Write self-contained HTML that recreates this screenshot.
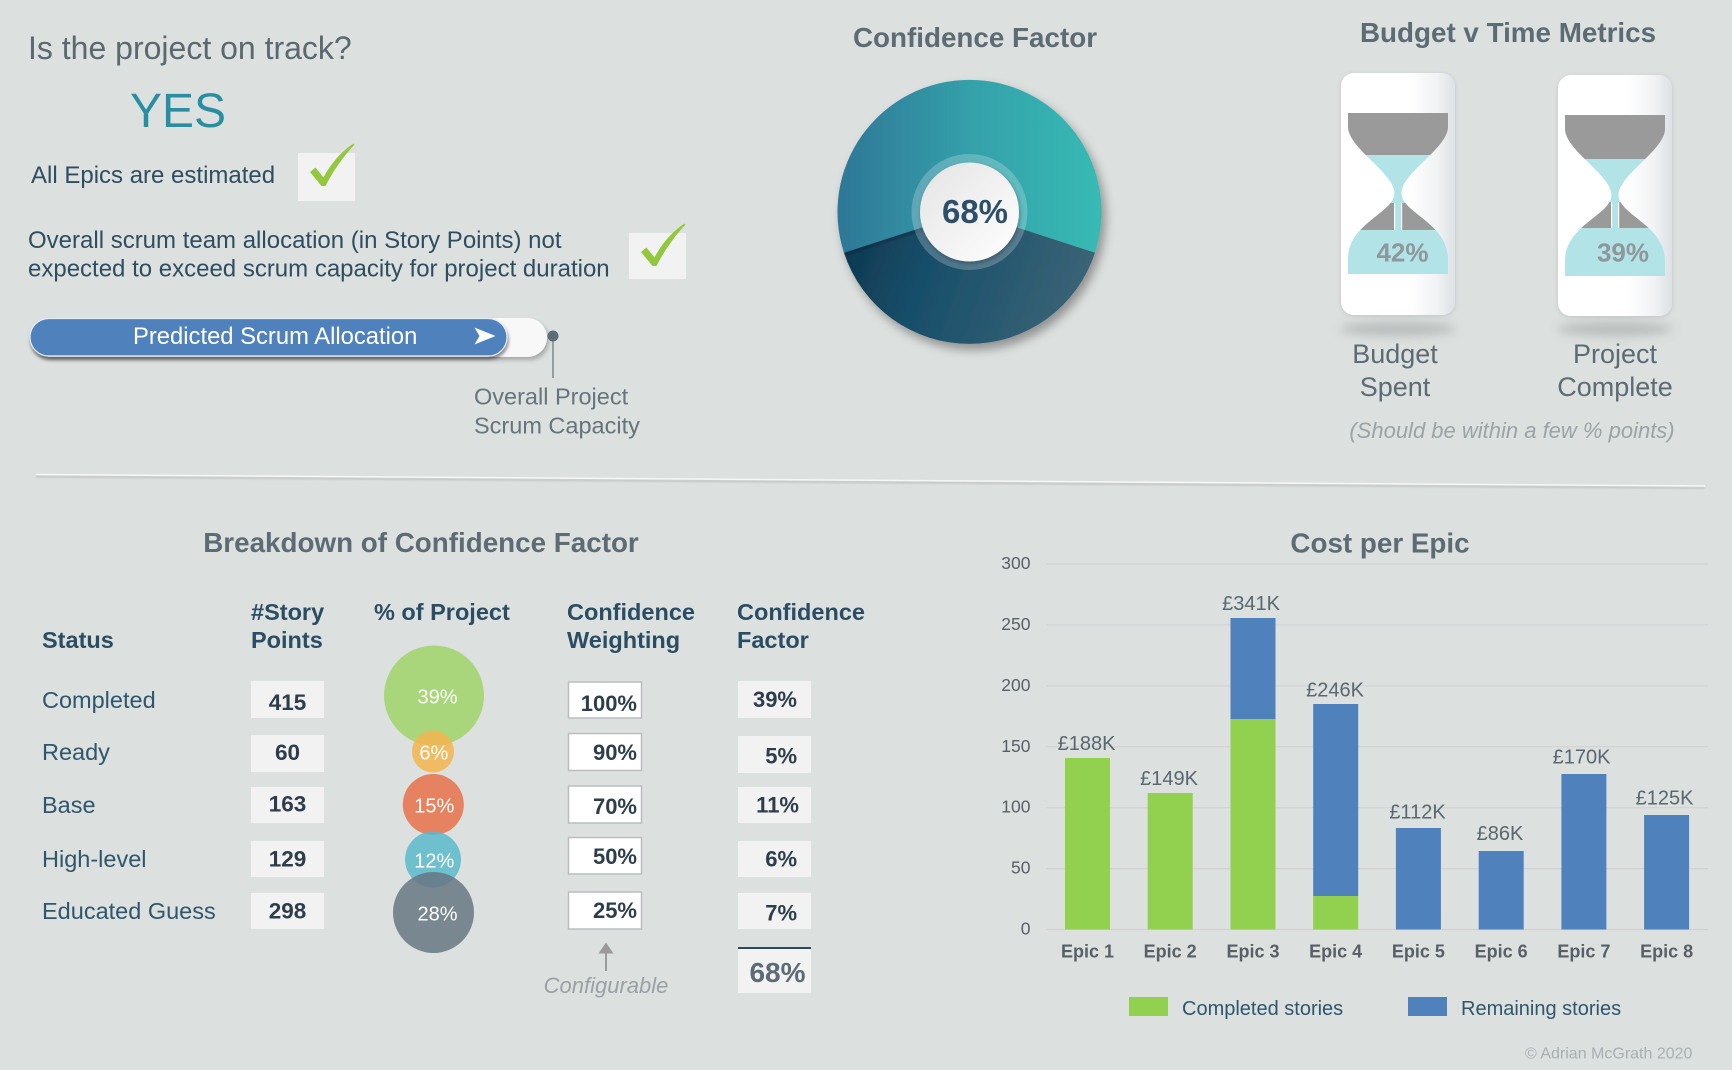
<!DOCTYPE html>
<html><head><meta charset="utf-8"><style>
html,body{margin:0;padding:0;background:#dce0de;width:1732px;height:1070px;overflow:hidden}
svg{display:block}
text{font-family:"Liberation Sans",Arial,sans-serif}
</style></head><body>
<svg width="1732" height="1070" viewBox="0 0 1732 1070" xmlns="http://www.w3.org/2000/svg">
<defs>
<filter id="pieSh" x="-20%" y="-20%" width="150%" height="150%"><feDropShadow dx="4" dy="6" stdDeviation="5" flood-color="#000" flood-opacity=".35"/></filter>
<filter id="pillSh" x="-5%" y="-40%" width="110%" height="200%"><feDropShadow dx="1" dy="3" stdDeviation="1.6" flood-color="#000" flood-opacity=".45"/></filter>
<filter id="pillSh2" x="-5%" y="-40%" width="110%" height="200%"><feDropShadow dx="2" dy="3" stdDeviation="2" flood-color="#000" flood-opacity=".25"/></filter>
<filter id="hgSh" x="-20%" y="-20%" width="140%" height="140%"><feDropShadow dx="0" dy="1" stdDeviation="2.5" flood-color="#000" flood-opacity=".12"/></filter>
<filter id="inSh" x="-30%" y="-30%" width="160%" height="160%"><feDropShadow dx="1" dy="2" stdDeviation="2" flood-color="#000" flood-opacity=".3"/></filter>
<filter id="bl3" x="-50%" y="-300%" width="200%" height="700%"><feGaussianBlur stdDeviation="5"/></filter>
<filter id="bl1"><feGaussianBlur stdDeviation="0.8"/></filter>
<linearGradient id="teal" x1="838" y1="0" x2="1102" y2="0" gradientUnits="userSpaceOnUse">
<stop offset="0" stop-color="#2e7797"/><stop offset=".5" stop-color="#34a0aa"/><stop offset="1" stop-color="#37bab4"/></linearGradient>
<linearGradient id="dark" x1="850" y1="250" x2="1090" y2="330" gradientUnits="userSpaceOnUse">
<stop offset="0" stop-color="#0f3a52"/><stop offset=".3" stop-color="#174e6a"/><stop offset="1" stop-color="#3f6677"/></linearGradient>
<linearGradient id="inner" x1="0" y1="0" x2="1" y2="1">
<stop offset="0" stop-color="#e4e4e4"/><stop offset="1" stop-color="#ffffff"/></linearGradient>
<linearGradient id="frame" x1="0" y1="0" x2="1" y2="0">
<stop offset="0" stop-color="#ffffff"/><stop offset=".6" stop-color="#ffffff"/><stop offset=".85" stop-color="#f0f2f3"/><stop offset="1" stop-color="#dce1e5"/></linearGradient>
<clipPath id="hgClip"><path d="M7,40 H107 V54 C107,75 60.5,100 60.5,120 C60.5,140 107,150 107,186 V201 H7 V186 C7,150 53.5,140 53.5,120 C53.5,100 7,75 7,54 Z"/></clipPath>
</defs>

<!-- Top left -->
<text x="28" y="59" font-size="32" fill="#5b6870">Is the project on track?</text>
<text x="130" y="127" font-size="48" fill="#2a8ea3">YES</text>
<text x="31" y="183" font-size="24" fill="#2f4d61">All Epics are estimated</text>
<rect x="298" y="153" width="57" height="48" fill="#f2f2f2"/>
<path d="M310,172 L315.5,167.5 L323.5,177.5 C331,163 342,151 353.5,143.5 L354.5,144.5 C343,157 333,171 325.5,186 L321.5,186 Z" fill="#93c83e"/>
<text x="28" y="248" font-size="24" fill="#2f4d61">Overall scrum team allocation (in Story Points) not</text>
<text x="28" y="276.5" font-size="24" fill="#2f4d61">expected to exceed scrum capacity for project duration</text>
<rect x="629" y="233" width="57" height="46" fill="#f2f2f2"/>
<path transform="translate(331,80)" d="M310,172 L315.5,167.5 L323.5,177.5 C331,163 342,151 353.5,143.5 L354.5,144.5 C343,157 333,171 325.5,186 L321.5,186 Z" fill="#93c83e"/>

<rect x="30" y="318" width="517" height="39" rx="19.5" fill="#f8f8f8" filter="url(#pillSh2)"/>
<rect x="30" y="318.5" width="477" height="37.5" rx="18.75" fill="#4f81bd" stroke="#e6edf5" stroke-width="1.2" filter="url(#pillSh)"/>
<text x="133" y="344" font-size="23.8" fill="#ffffff">Predicted Scrum Allocation</text>
<polygon points="474.5,327.5 495.5,336 474.5,344.5 479.5,336" fill="#ffffff"/>
<line x1="553" y1="336" x2="553" y2="378" stroke="#6d7b83" stroke-width="1.3"/>
<circle cx="553" cy="336" r="5.5" fill="#5d6d77"/>
<text x="474" y="404.5" font-size="23.5" fill="#66747c">Overall Project</text>
<text x="474" y="433.5" font-size="23.5" fill="#66747c">Scrum Capacity</text>

<!-- Confidence factor pie -->
<text x="975" y="47" font-size="27.8" font-weight="bold" fill="#5d6b75" text-anchor="middle">Confidence Factor</text>
<g filter="url(#pieSh)">
<path d="M969.5,212 L1095,252.8 A132,132 0 1 0 844,252.8 Z" fill="url(#teal)"/>
<path d="M969.5,212 L844,252.8 A132,132 0 0 0 1095,252.8 Z" fill="url(#dark)"/>
</g>
<line x1="846" y1="254" x2="930" y2="227" stroke="#081f2d" stroke-width="3" opacity=".35" filter="url(#bl1)"/>
<circle cx="969.5" cy="212" r="58" fill="#ffffff" opacity=".22"/>
<circle cx="969.5" cy="212" r="49.5" fill="url(#inner)" filter="url(#inSh)"/>
<text x="975" y="223" font-size="33" font-weight="bold" fill="#2d5068" text-anchor="middle">68%</text>

<!-- Budget v Time -->
<text x="1508" y="42" font-size="27.8" font-weight="bold" fill="#5d6b75" text-anchor="middle">Budget v Time Metrics</text>
<g transform="translate(1341,73)">
<ellipse cx="57" cy="256" rx="58" ry="7" fill="#b0b4b4" opacity=".8" filter="url(#bl3)"/>
<rect x="0" y="0" width="114" height="242" rx="13" fill="url(#frame)" filter="url(#hgSh)"/>
<g clip-path="url(#hgClip)">
<rect x="0" y="40" width="114" height="42" fill="#9a9a9a"/>
<rect x="0" y="82" width="114" height="48" fill="#b1e3e7"/>
<rect x="0" y="130" width="114" height="27" fill="#9a9a9a"/>
<rect x="53.5" y="130" width="7" height="27" fill="#b1e3e7"/>
<rect x="53" y="130" width="1.2" height="27" fill="#ffffff"/>
<rect x="60" y="130" width="1.2" height="27" fill="#ffffff"/>
<rect x="0" y="157" width="114" height="44" fill="#b1e3e7"/>
</g>
<text x="61.5" y="188.7" font-size="26" font-weight="bold" fill="#8e979b" text-anchor="middle">42%</text>
</g>
<g transform="translate(1558,75)">
<ellipse cx="57" cy="254" rx="58" ry="7" fill="#b0b4b4" opacity=".8" filter="url(#bl3)"/>
<rect x="0" y="0" width="114" height="241" rx="13" fill="url(#frame)" filter="url(#hgSh)"/>
<g clip-path="url(#hgClip)">
<rect x="0" y="40" width="114" height="44" fill="#9a9a9a"/>
<rect x="0" y="84" width="114" height="43" fill="#b1e3e7"/>
<rect x="0" y="127" width="114" height="26" fill="#9a9a9a"/>
<rect x="53.5" y="127" width="7" height="26" fill="#b1e3e7"/>
<rect x="53" y="127" width="1.2" height="26" fill="#ffffff"/>
<rect x="60" y="127" width="1.2" height="26" fill="#ffffff"/>
<rect x="0" y="153" width="114" height="48" fill="#b1e3e7"/>
</g>
<text x="65" y="186.7" font-size="26" font-weight="bold" fill="#8e979b" text-anchor="middle">39%</text>
</g>
<text x="1395" y="363" font-size="27" fill="#5d6b75" text-anchor="middle">Budget</text>
<text x="1395" y="396" font-size="27" fill="#5d6b75" text-anchor="middle">Spent</text>
<text x="1615" y="363" font-size="27" fill="#5d6b75" text-anchor="middle">Project</text>
<text x="1615" y="396" font-size="27" fill="#5d6b75" text-anchor="middle">Complete</text>
<text x="1512" y="438" font-size="22" font-style="italic" fill="#9ba3a7" text-anchor="middle">(Should be within a few % points)</text>

<!-- separator -->
<line x1="36" y1="476.5" x2="1705" y2="488" stroke="#bfc3c2" stroke-width="2.2" opacity=".8" filter="url(#bl1)"/>
<line x1="36" y1="474.5" x2="1705" y2="486" stroke="#f6f7f7" stroke-width="1.5"/>

<!-- Breakdown table -->
<text x="421" y="552" font-size="27.8" font-weight="bold" fill="#5d6b75" text-anchor="middle">Breakdown of Confidence Factor</text>
<g font-size="23.5" font-weight="bold" fill="#2b4d63">
<text x="42" y="648">Status</text>
<text x="251" y="620">#Story</text>
<text x="251" y="648">Points</text>
<text x="374" y="620">% of Project</text>
<text x="567" y="620">Confidence</text>
<text x="567" y="648">Weighting</text>
<text x="737" y="620">Confidence</text>
<text x="737" y="648">Factor</text>
</g>
<g font-size="23.5" fill="#2f566d">
<text x="42" y="708">Completed</text>
<text x="42" y="760">Ready</text>
<text x="42" y="813">Base</text>
<text x="42" y="867">High-level</text>
<text x="42" y="919">Educated Guess</text>
</g>
<g fill="#f2f2f2">
<rect x="251" y="681" width="73" height="37"/>
<rect x="251" y="735" width="73" height="37"/>
<rect x="251" y="787" width="73" height="36"/>
<rect x="251" y="841" width="73" height="36"/>
<rect x="251" y="893" width="73" height="36"/>
<rect x="738" y="681" width="73" height="37"/>
<rect x="738" y="736" width="73" height="37"/>
<rect x="738" y="787" width="73" height="36"/>
<rect x="738" y="841" width="73" height="36"/>
<rect x="738" y="893" width="73" height="36"/>
<rect x="738" y="947" width="73" height="46"/>
</g>
<line x1="738" y1="948" x2="811" y2="948" stroke="#2b4a5e" stroke-width="2"/>
<g fill="#ffffff" stroke="#b9bdbf" stroke-width="1.5">
<rect x="568.5" y="682" width="73" height="36"/>
<rect x="568.5" y="733.5" width="73" height="37"/>
<rect x="568.5" y="786" width="73" height="37"/>
<rect x="568.5" y="837.5" width="73" height="36.5"/>
<rect x="568.5" y="892" width="73" height="37"/>
</g>
<g font-size="22.5" font-weight="bold" fill="#2d3d4a" text-anchor="middle">
<text x="287.5" y="710">415</text>
<text x="287.5" y="760">60</text>
<text x="287.5" y="811.5">163</text>
<text x="287.5" y="866.5">129</text>
<text x="287.5" y="918.5">298</text>
</g>
<g font-size="22" font-weight="bold" fill="#2d3d4a" text-anchor="end">
<text x="637" y="711">100%</text>
<text x="637" y="760">90%</text>
<text x="637" y="814">70%</text>
<text x="637" y="864">50%</text>
<text x="637" y="918">25%</text>
<text x="797" y="707">39%</text>
<text x="797" y="763.5">5%</text>
<text x="799" y="812.5">11%</text>
<text x="797" y="866.5">6%</text>
<text x="797" y="920.5">7%</text>
</g>
<text x="777.5" y="982" font-size="28" font-weight="bold" fill="#5d6b75" text-anchor="middle">68%</text>

<!-- bubbles -->
<circle cx="434" cy="695.5" r="50" fill="#a0d369" opacity=".85"/>
<circle cx="433" cy="751.5" r="21" fill="#f3b44e" opacity=".85"/>
<circle cx="433.3" cy="804.5" r="30.5" fill="#e8714a" opacity=".85"/>
<circle cx="433" cy="859.5" r="28" fill="#5abacd" opacity=".85"/>
<circle cx="433.5" cy="912.5" r="40.5" fill="#667782" opacity=".85"/>
<g font-size="20" fill="#ffffff" text-anchor="middle">
<text x="437.5" y="703.3">39%</text>
<text x="433.8" y="759.3">6%</text>
<text x="434.3" y="812.3">15%</text>
<text x="434.3" y="867.7">12%</text>
<text x="437.5" y="920.7">28%</text>
</g>

<!-- configurable -->
<polygon points="606,942.5 613.5,953.5 598.5,953.5" fill="#9a9a9a"/>
<rect x="605" y="952" width="2" height="19" fill="#9a9a9a"/>
<text x="606" y="993" font-size="22" font-style="italic" fill="#9aa1a5" text-anchor="middle">Configurable</text>

<!-- Cost per Epic chart -->
<text x="1380" y="552.7" font-size="27.8" font-weight="bold" fill="#5d6b75" text-anchor="middle">Cost per Epic</text>
<g stroke="#d2d2d5" stroke-width="1.2">
<line x1="1046" y1="564" x2="1708" y2="564"/>
<line x1="1046" y1="624.9" x2="1708" y2="624.9"/>
<line x1="1046" y1="685.8" x2="1708" y2="685.8"/>
<line x1="1046" y1="746.7" x2="1708" y2="746.7"/>
<line x1="1046" y1="807.7" x2="1708" y2="807.7"/>
<line x1="1046" y1="868.6" x2="1708" y2="868.6"/>
<line x1="1046" y1="929.5" x2="1708" y2="929.5"/>
</g>
<g font-size="17.5" fill="#595f66" text-anchor="end">
<text x="1030.5" y="569">300</text>
<text x="1030.5" y="630">250</text>
<text x="1030.5" y="691">200</text>
<text x="1030.5" y="752">150</text>
<text x="1030.5" y="812.6">100</text>
<text x="1030.5" y="873.7">50</text>
<text x="1030.5" y="934.7">0</text>
</g>
<g fill="#92d050">
<rect x="1065" y="758" width="45" height="171.5"/>
<rect x="1147.7" y="793" width="45" height="136.5"/>
<rect x="1230.5" y="719" width="45" height="210.5"/>
<rect x="1313.2" y="896" width="45" height="33.5"/>
</g>
<g fill="#4f81bd">
<rect x="1230.5" y="618" width="45" height="101"/>
<rect x="1313.2" y="704" width="45" height="192"/>
<rect x="1395.9" y="828" width="45" height="101.5"/>
<rect x="1478.7" y="851" width="45" height="78.5"/>
<rect x="1561.4" y="774" width="45" height="155.5"/>
<rect x="1644.1" y="815" width="45" height="114.5"/>
</g>
<g font-size="20" fill="#5a6770" text-anchor="middle">
<text x="1086.5" y="750">£188K</text>
<text x="1169" y="785">£149K</text>
<text x="1251" y="609.8">£341K</text>
<text x="1335" y="696.3">£246K</text>
<text x="1417.5" y="818.4">£112K</text>
<text x="1500" y="840.2">£86K</text>
<text x="1581.5" y="763.5">£170K</text>
<text x="1664.5" y="804.3">£125K</text>
</g>
<g font-size="18" font-weight="bold" fill="#595f66" text-anchor="middle">
<text x="1087.5" y="957.3">Epic 1</text>
<text x="1170.2" y="957.3">Epic 2</text>
<text x="1253" y="957.3">Epic 3</text>
<text x="1335.7" y="957.3">Epic 4</text>
<text x="1418.4" y="957.3">Epic 5</text>
<text x="1501.2" y="957.3">Epic 6</text>
<text x="1583.9" y="957.3">Epic 7</text>
<text x="1666.6" y="957.3">Epic 8</text>
</g>
<rect x="1129" y="997" width="39" height="19" fill="#92d050"/>
<text x="1182" y="1015" font-size="20" fill="#2f566d">Completed stories</text>
<rect x="1408" y="997" width="39" height="19" fill="#4f81bd"/>
<text x="1461" y="1015" font-size="20" fill="#2f566d">Remaining stories</text>
<text x="1525" y="1058.5" font-size="16" fill="#a9b0b3">© Adrian McGrath 2020</text>
</svg>
</body></html>
